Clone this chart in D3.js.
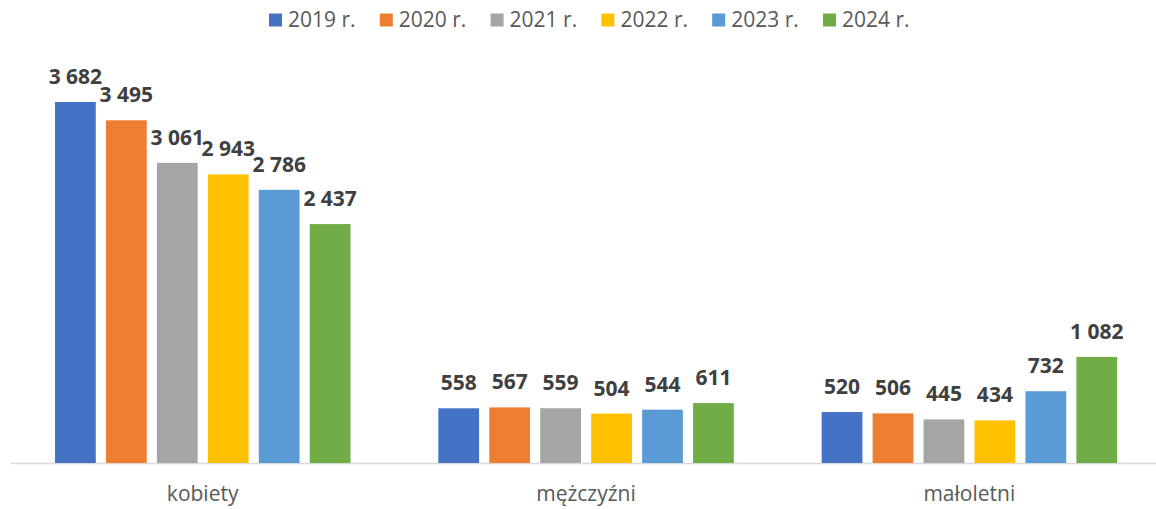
<!DOCTYPE html>
<html>
<head>
<meta charset="utf-8">
<script src="https://cdn.jsdelivr.net/npm/d3@7"></script>
<style>
  body { margin: 0; background: #fff; }
  svg { display: block; font-family: "Open Sans", sans-serif; }
</style>
</head>
<body>
<div id="chart"></div>
<script>
// data
const categories = ['kobiety', 'mężczyźni', 'małoletni'];
const years = ['2019 r.', '2020 r.', '2021 r.', '2022 r.', '2023 r.', '2024 r.'];
const kobiety = [3682, 3495, 3061, 2943, 2786, 2437];
const mezczyzni = [558, 567, 559, 504, 544, 611];
const maloletni = [520, 506, 445, 434, 732, 1082];
const colors = ['#4472C4', '#ED7D31', '#A5A5A5', '#FFC000', '#5B9BD5', '#70AD47'];

const seriesByCategory = [kobiety, mezczyzni, maloletni];

const width = 1156, height = 509;
const baseline = 463;

const svg = d3.select('#chart').append('svg')
    .attr('width', width)
    .attr('height', height);

const x0 = d3.scaleBand()
    .domain(categories)
    .range([11, 1161]);

const x1 = d3.scaleBand()
    .domain(years)
    .range([44, 339.5])
    .paddingInner(0.2);

const y = d3.scaleLinear()
    .domain([0, 4000])
    .range([baseline, 70.8]);

const fmt = v => d3.format(',')(v).replace(/,/g, ' ');

// axis line
svg.append('line')
    .attr('x1', 11)
    .attr('x2', width)
    .attr('y1', baseline + 0.5)
    .attr('y2', baseline + 0.5)
    .attr('stroke', '#d9d9d9')
    .attr('stroke-width', 1.5);

const group = svg.append('g')
  .selectAll('g')
  .data(categories)
  .join('g')
    .attr('transform', d => `translate(${x0(d)},0)`);

const cells = group.selectAll('g')
  .data((c, i) => seriesByCategory[i].map((v, j) => ({ year: years[j], value: v, color: colors[j] })))
  .join('g');

cells.append('rect')
    .attr('x', d => x1(d.year))
    .attr('width', x1.bandwidth())
    .attr('y', d => y(d.value))
    .attr('height', d => baseline - y(d.value))
    .attr('fill', d => d.color);

cells.append('text')
    .attr('x', d => x1(d.year) + x1.bandwidth() / 2)
    .attr('y', d => y(d.value) - 18)
    .attr('text-anchor', 'middle')
    .attr('font-size', 21)
    .attr('font-weight', 'bold')
    .attr('fill', '#404040')
    .text(d => fmt(d.value));

// category labels
svg.append('g')
  .selectAll('text')
  .data(categories)
  .join('text')
    .attr('x', d => x0(d) + x0.bandwidth() / 2)
    .attr('y', 501)
    .attr('text-anchor', 'middle')
    .attr('font-size', 21)
    .attr('fill', '#595959')
    .text(d => d);

// legend
const legend = svg.append('g')
  .selectAll('g')
  .data(years)
  .join('g')
    .attr('transform', (d, i) => `translate(${269 + i * 110.8},0)`);

legend.append('rect')
    .attr('x', 0)
    .attr('y', 13.5)
    .attr('width', 13)
    .attr('height', 13)
    .attr('fill', (d, i) => colors[i]);

legend.append('text')
    .attr('x', 19)
    .attr('y', 26.7)
    .attr('font-size', 21)
    .attr('fill', '#595959')
    .text(d => d);
</script>
</body>
</html>
